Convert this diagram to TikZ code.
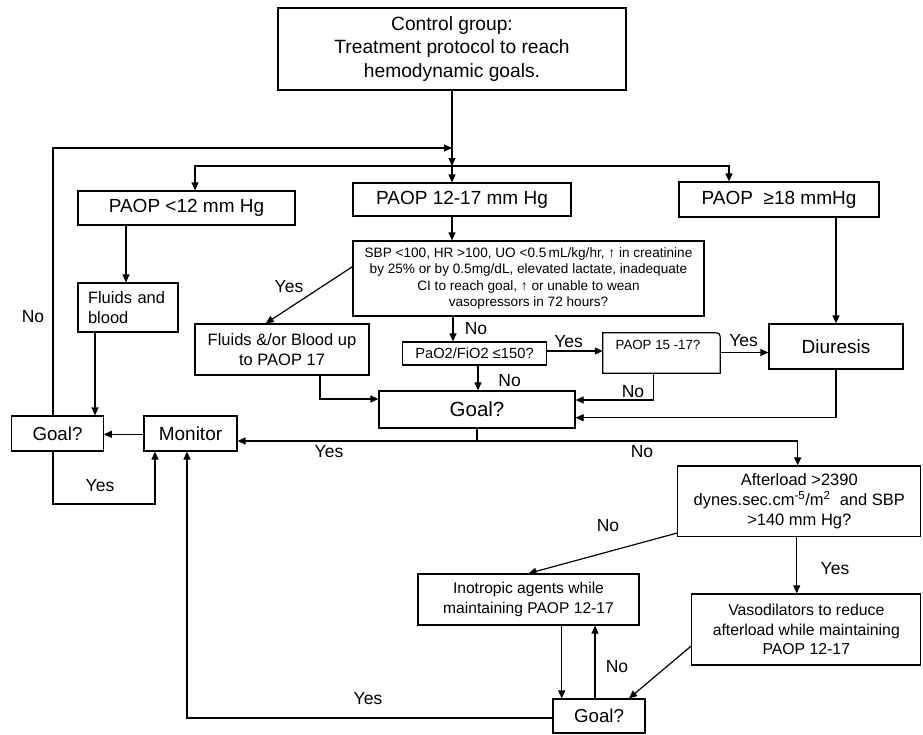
\documentclass[tikz,border=0pt]{standalone}
\usepackage{fontspec}
\setmainfont{Liberation Sans}
\usetikzlibrary{arrows.meta}
\newcommand\fz[2]{\fontsize{#1}{#2}\selectfont}
\begin{document}
\begin{tikzpicture}[x=1pt,y=-1pt,
  box/.style={draw, line width=1.2pt, inner sep=0pt, align=center},
  lab/.style={inner sep=0pt, font=\fz{17.5}{20}},
  arr/.style={-{Triangle[length=8pt,width=7pt]}, line width=1.2pt},
  ln/.style={line width=1.2pt}]
\useasboundingbox (0,0) rectangle (923,734);
% nodes
\node[box, minimum width=348pt, minimum height=82pt, font=\fz{19.2}{23.5}] (top) at (452,49) {Control group:\\Treatment protocol to reach\\hemodynamic goals.};
\node[box, minimum width=217pt, minimum height=34pt, font=\fz{19}{22}] (p12) at (186.5,208) {PAOP <12 mm Hg};
\node[box, minimum width=218pt, minimum height=33pt, font=\fz{19}{22}] (p1217) at (462,199.5) {PAOP 12-17 mm Hg};
\node[box, minimum width=200pt, minimum height=35pt, font=\fz{19}{22}] (p18) at (779,199.5) {PAOP\ \ ≥18 mmHg};
\node[box, minimum width=351pt, minimum height=75pt, font=\fz{13.6}{16.3}] (sbp) at (528.5,278.5) {SBP <100, HR >100, UO <0.5\,mL/kg/hr, ↑ in creatinine\\by 25\% or by 0.5mg/dL, elevated lactate, inadequate\\CI to reach goal, ↑ or unable to wean\\vasopressors in 72 hours?};
\node[box, minimum width=100pt, minimum height=49pt, text width=80pt, align=left, font=\fz{16.5}{20}] (fb) at (128,307.5) {Fluids and\\blood};
\node[box, minimum width=174pt, minimum height=51pt, font=\fz{16.5}{20}] (fbl) at (282,349.5) {Fluids \&/or Blood up\\to PAOP 17};
\node[box, minimum width=143.5pt, minimum height=23pt, font=\fz{14.7}{17}] (pao) at (474.5,353.5) {PaO2/FiO2 ≤150?};
\node[inner sep=0pt, minimum width=117pt, minimum height=40pt] (p15) at (661.5,353) {};
\draw[ln] (p15.south west) -- (p15.north west) -- ([xshift=-8pt]p15.north east) .. controls (p15.north east) .. ([yshift=-8pt]p15.north east) -- (p15.south east) -- cycle;
\node[inner sep=0pt, font=\fz{13.3}{16}] (p15t) at (658,345) {PAOP 15 -17?};
\node[box, minimum width=134pt, minimum height=45pt, font=\fz{19}{22}] (dia) at (836,346.5) {Diuresis};
\node[box, minimum width=196pt, minimum height=37pt, font=\fz{20.5}{24}] (goal) at (477,409.5) {Goal?};
\node[box, minimum width=91.5pt, minimum height=35pt, font=\fz{18.7}{22}] (goalL) at (57.5,433.5) {Goal?};
\node[box, minimum width=93pt, minimum height=35pt, font=\fz{19}{22}] (mon) at (190.5,433.5) {Monitor};
\node[box, minimum width=243pt, minimum height=70.7pt, font=\fz{16.5}{20}] (aft) at (799.3,501.3) {Afterload >2390\\dynes.sec.cm\textsuperscript{-5}/m\textsuperscript{2}\ \ and SBP\\>140 mm Hg?};
\node[box, minimum width=221pt, minimum height=51pt, font=\fz{15.6}{19.3}] (ino) at (528.5,599.5) {Inotropic agents while\\maintaining PAOP 12-17};
\node[box, minimum width=229pt, minimum height=71pt, font=\fz{15.8}{19.7}] (vas) at (806.3,629.5) {Vasodilators to reduce\\afterload while maintaining\\PAOP 12-17};
\node[box, minimum width=92pt, minimum height=34pt, font=\fz{18.7}{22}] (goalB) at (599,716) {Goal?};
% waypoints
\coordinate (j1) at (452,148);
\coordinate (j2) at (452,166);
\coordinate (h1) at (195,166);
\coordinate (h2) at (729,166);
\coordinate (g1) at (477,441);
\coordinate (w1) at (53,504);
% connectors
\draw[arr] (top.south -| j2) -- (j2);
\draw[arr] (j2) -- (p1217.north -| j2);
\draw[arr] (j2) -- (h1) -- (p12.north -| h1);
\draw[arr] (j2) -- (h2) -- (p18.north -| h2);
\draw[arr] (goalL.north -| w1) |- (j1);
\draw[arr] (p1217.south -| j2) -- (sbp.north -| j2);
\draw[arr] (p12.south -| 126,0) -- (fb.north -| 126,0);
\draw[arr] (sbp.west |- 0,266.7) -- (fbl.north -| 265.7,0);
\draw[arr] (sbp.south -| 453,0) -- (pao.north -| 453,0);
\draw[arr] (pao.east |- 0,351) -- (p15.west |- 0,351);
\draw[arr] (p15.east |- 0,352.5) -- (dia.west |- 0,352.5);
\draw[arr] (p18.south -| dia.north) -- (dia.north);
\draw[arr] (pao.south -| 478,0) -- (goal.north -| 478,0);
\draw[arr] (p15.south -| 653.6,0) |- (goal.east |- 0,400);
\draw[arr] (dia.south) |- (goal.east |- 0,417.7);
\draw[arr] (fbl.south -| 320,0) |- (goal.west |- 0,399);
\draw[arr] (fb.south -| 95,0) -- (goalL.north -| 95,0);
\draw[arr] (mon.west |- 0,434.3) -- (goalL.east |- 0,434.3);
\draw[ln] (goal.south -| g1) -- (g1);
\draw[arr] (g1) -- (mon.east |- g1);
\draw[arr] (g1) -| (aft.north -| 797.7,0);
\draw[arr] (goalL.south -| w1) -- (w1) -| (mon.south -| 155,0);
\draw[arr] (aft.west |- 0,533) -- (ino.north);
\draw[arr] (aft.south -| 796.7,0) -- (vas.north -| 796.7,0);
\draw[arr] (ino.south -| 561.7,0) -- (goalB.north -| 561.7,0);
\draw[arr] (goalB.north -| 595,0) -- (ino.south -| 595,0);
\draw[arr] (vas.west |- 0,646) -- (goalB.north -| 629,0);
\draw[arr] (goalB.west |- 0,718) -| (mon.south -| 187,0);
% labels
\node[lab] at (289,287) {Yes};
\node[lab] at (33,317) {No};
\node[lab] at (476,329) {No};
\node[lab] at (568.6,342) {Yes};
\node[lab] at (743.6,341) {Yes};
\node[lab] at (509.6,381) {No};
\node[lab] at (633,392) {No};
\node[lab] at (329,451.7) {Yes};
\node[lab] at (642,451.7) {No};
\node[lab] at (100,486) {Yes};
\node[lab] at (608,526) {No};
\node[lab] at (835,569) {Yes};
\node[lab] at (617,666.7) {No};
\node[lab] at (368,699) {Yes};
\end{tikzpicture}
\end{document}
